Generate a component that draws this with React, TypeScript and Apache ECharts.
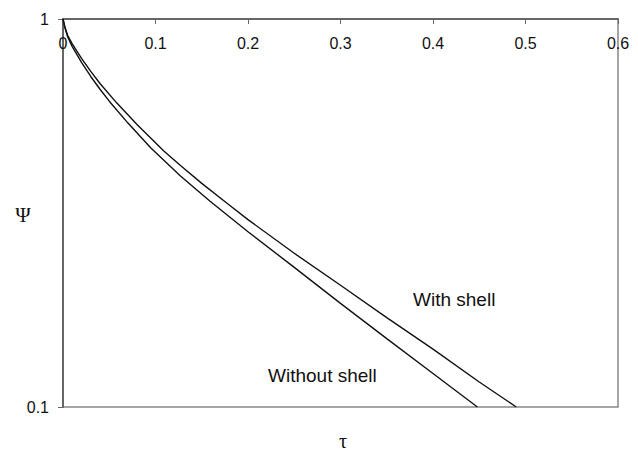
import React, { useEffect, useRef } from "react";
import * as echarts from "echarts";

const tauWithout = [0, 0.002, 0.005, 0.01, 0.02, 0.03, 0.04, 0.05, 0.07, 0.095, 0.127, 0.159, 0.2, 0.25, 0.3, 0.35, 0.4, 0.448];
const psiWithout = [1, 0.95, 0.9, 0.849, 0.773, 0.711, 0.659, 0.614, 0.54, 0.465, 0.394, 0.339, 0.283, 0.229, 0.185, 0.15, 0.122, 0.1];

const tauWith = [0, 0.002, 0.005, 0.01, 0.02, 0.03, 0.04, 0.058, 0.08, 0.109, 0.127, 0.15, 0.178, 0.2, 0.25, 0.3, 0.35, 0.4, 0.45, 0.49];
const psiWith = [1, 0.955, 0.908, 0.863, 0.792, 0.733, 0.682, 0.608, 0.535, 0.457, 0.419, 0.377, 0.334, 0.304, 0.249, 0.206, 0.17, 0.141, 0.116, 0.1];

const xTicks = [0, 0.1, 0.2, 0.3, 0.4, 0.5, 0.6];
const seriesNames = ["Without shell", "With shell"];

export default function App() {
  const ref = useRef<HTMLDivElement>(null);
  useEffect(() => {
    if (!ref.current) return;
    const chart = echarts.init(ref.current, null, { renderer: "svg" });
    const pair = (xs: number[], ys: number[]) => xs.map((x, i) => [x, ys[i]]);
    const sans = "Liberation Sans, Arial, sans-serif";
    const serif = "Liberation Serif, Times New Roman, serif";
    chart.setOption({
      animation: false,
      backgroundColor: "#ffffff",
      grid: {
        left: 63,
        top: 19,
        right: 20,
        bottom: 49,
        show: true,
        borderColor: "#888",
        borderWidth: 1.5,
      },
      xAxis: {
        type: "value",
        position: "top",
        min: xTicks[0],
        max: xTicks[xTicks.length - 1],
        interval: 0.1,
        axisLine: { show: true, onZero: false, lineStyle: { color: "#666", width: 2 } },
        axisTick: { show: true, inside: true, length: 5, lineStyle: { color: "#666" } },
        axisLabel: {
          inside: true,
          margin: 16,
          fontFamily: sans,
          fontSize: 16,
          color: "#111",
          formatter: (v: number) => String(Math.round(v * 10) / 10),
        },
        splitLine: { show: false },
      },
      yAxis: {
        type: "log",
        logBase: 10,
        min: 0.1,
        max: 1,
        axisLine: { show: true, lineStyle: { color: "#666", width: 2 } },
        axisTick: { show: true, length: 5, lineStyle: { color: "#666" } },
        minorTick: { show: false },
        axisLabel: {
          margin: 14,
          fontFamily: sans,
          fontSize: 16,
          color: "#111",
          formatter: (v: number) => (v >= 1 ? "1" : String(v)),
        },
        splitLine: { show: false },
      },
      series: [
        {
          name: seriesNames[0],
          type: "line",
          data: pair(tauWithout, psiWithout),
          showSymbol: false,
          symbol: "none",
          lineStyle: { color: "#111", width: 1.4 },
        },
        {
          name: seriesNames[1],
          type: "line",
          data: pair(tauWith, psiWith),
          showSymbol: false,
          symbol: "none",
          lineStyle: { color: "#111", width: 1.4 },
        },
      ],
      graphic: [
        {
          type: "text",
          x: 413,
          y: 299,
          style: { text: seriesNames[1], fontFamily: sans, fontSize: 19, fill: "#111", verticalAlign: "middle" },
        },
        {
          type: "text",
          x: 268,
          y: 375,
          style: { text: seriesNames[0], fontFamily: sans, fontSize: 19, fill: "#111", verticalAlign: "middle" },
        },
        {
          type: "text",
          x: 23,
          y: 215,
          style: { text: "Ψ", fontFamily: serif, fontSize: 21, fill: "#111", align: "center", verticalAlign: "middle" },
        },
        {
          type: "text",
          x: 343,
          y: 441,
          style: { text: "τ", fontFamily: serif, fontSize: 20, fill: "#111", align: "center", verticalAlign: "middle" },
        },
      ],
    });
    return () => chart.dispose();
  }, []);
  return <div ref={ref} style={{ width: 638, height: 456, position: "absolute", left: 0, top: 0 }} />;
}
